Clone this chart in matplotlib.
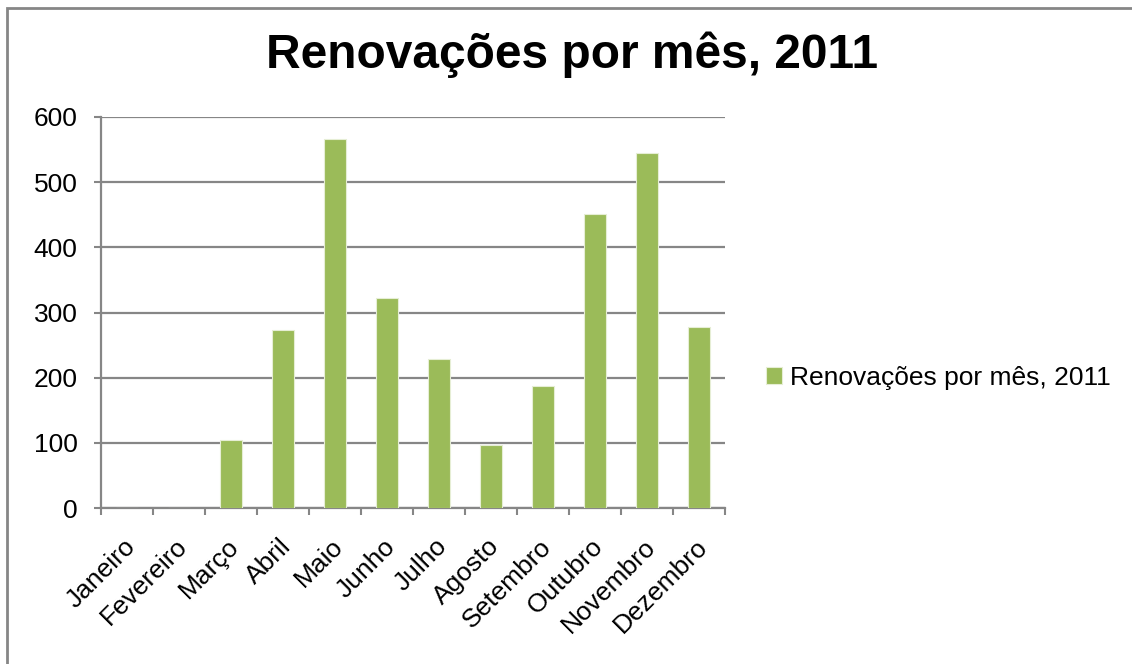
import numpy as np
import matplotlib.pyplot as plt
from matplotlib.patches import Rectangle
from matplotlib.transforms import ScaledTranslation

#==============================================================================#
# Dados
#==============================================================================#
meses = ['Janeiro', 'Fevereiro', 'Março', 'Abril', 'Maio', 'Junho', 'Julho',
         'Agosto', 'Setembro', 'Outubro', 'Novembro', 'Dezembro']
renovacoes = [0, 0, 105, 273, 567, 322, 229, 96, 187, 451, 545, 277]
titulo = 'Renovações por mês, 2011'

verde = '#9BBB59'
cinza = '#868686'

plt.rcParams['font.family'] = ['Liberation Sans', 'DejaVu Sans']

#==============================================================================#
# Figura
#==============================================================================#
fig = plt.figure(figsize=(11.32, 6.64), dpi=100)
ax = fig.add_axes([101/1132, 1 - 508/664, 624/1132, 391/664])

x = np.arange(len(meses))
ax.bar(x, renovacoes, width=0.41, color=verde, edgecolor='#E6EED5',
       linewidth=0.8, label=titulo, zorder=3)

ax.set_xlim(-0.5, len(meses) - 0.5)
ax.set_ylim(0, 600)
ax.set_yticks(range(0, 601, 100))
ax.yaxis.grid(True, color=cinza, linewidth=1.6, zorder=0)

# ticks nas fronteiras das categorias
ax.set_xticks(np.arange(-0.5, len(meses), 1.0))
ax.set_xticklabels([])
ax.set_xticks(x, minor=True)
ax.set_xticklabels(meses, minor=True, rotation=45, ha='right',
                   rotation_mode='anchor', fontsize=19)
ax.tick_params(axis='x', which='minor', length=0, pad=19)
ax.tick_params(axis='x', which='major', length=5, width=1.5, color=cinza)
ax.tick_params(axis='y', length=5, width=1.5, color=cinza, labelsize=19, pad=12)
off = ScaledTranslation(-4/100, 0, fig.dpi_scale_trans)
for lab in ax.get_xticklabels(minor=True):
    lab.set_transform(lab.get_transform() + off)

for s in ['top', 'right']:
    ax.spines[s].set_visible(False)
for s in ['left', 'bottom']:
    ax.spines[s].set_color(cinza)
    ax.spines[s].set_linewidth(1.6)

fig.text(572/1132, 1 - 55/664, titulo, ha='center', va='center',
         fontsize=34.5, fontweight='bold')

fig.legend(loc='center left', bbox_to_anchor=(742/1132, 1 - 378/664),
           frameon=False, fontsize=19, handlelength=0.6, handleheight=0.6,
           handletextpad=0.3)

# borda da área do gráfico
fig.patches.append(Rectangle((7/1132, -0.05), 1.1, 1 - 8/664 + 0.05,
                             transform=fig.transFigure, fill=False,
                             edgecolor=cinza, linewidth=2))

fig.savefig('out.png', dpi=100)
